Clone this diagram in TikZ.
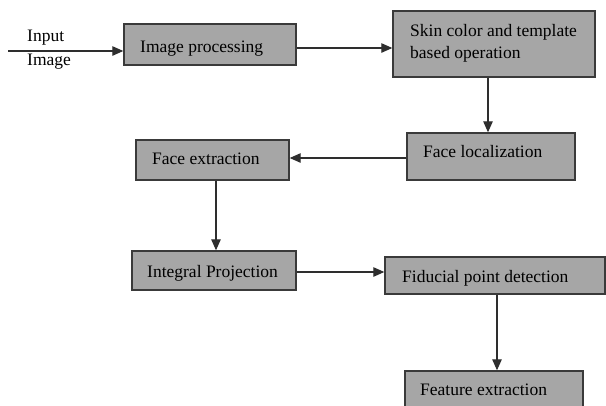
\documentclass[tikz,border=0pt]{standalone}
\usepackage{fontspec}
\setmainfont{Liberation Serif}
\usetikzlibrary{arrows.meta}
\definecolor{boxfill}{HTML}{A6A6A6}
\definecolor{boxline}{HTML}{3A3A3A}
\definecolor{lineclr}{HTML}{2E2E2E}
\tikzset{
  box/.style={draw=boxline, fill=boxfill, line width=1.4pt, rectangle, inner sep=0pt},
  lbl/.style={anchor=base west, inner sep=0pt, font=\fontsize{17.5}{20}\selectfont, text=black},
  arr/.style={draw=lineclr, line width=1.1pt, -{Triangle[length=11pt,width=9.5pt]}}
}
\begin{document}
\begin{tikzpicture}[x=1pt,y=-1pt]
\useasboundingbox (0,0) rectangle (606,405);
\clip (0,0) rectangle (606,405);
\fill[white] (0,0) rectangle (606,405);
% boxes
\node[box, minimum width=172pt, minimum height=41pt] (b1) at (210,44.5) {};
\node[box, minimum width=202pt, minimum height=66pt] (b2) at (494,44) {};
\node[box, minimum width=168pt, minimum height=47pt] (b3) at (491,156.5) {};
\node[box, minimum width=153pt, minimum height=40pt] (b4) at (212.5,160) {};
\node[box, minimum width=164pt, minimum height=39pt] (b5) at (214,270.5) {};
\node[box, minimum width=220pt, minimum height=37pt] (b6) at (495,275.5) {};
\node[box, minimum width=178pt, minimum height=40pt] (b7) at (494,391) {};
% texts
\node[lbl] (tin1) at (27,41) {Input};
\node[lbl] (tin2) at (27,65) {Image};
\node[lbl] (t1) at (140,52) {Image processing};
\node[lbl] (t2a) at (410,36) {Skin color and template};
\node[lbl] (t2b) at (410,58) {based operation};
\node[lbl] (t3) at (423,157) {Face localization};
\node[lbl] (t4) at (152,164) {Face extraction};
\node[lbl] (t5) at (147,277) {Integral Projection};
\node[lbl] (t6) at (402,282) {Fiducial point detection};
\node[lbl] (t7) at (420,395) {Feature extraction};
% helper coordinates
\coordinate (in) at (8,51);
\coordinate (h12) at (0,48);
\coordinate (v23) at (488,0);
\coordinate (h34) at (0,158);
\coordinate (v45) at (216,0);
\coordinate (h56) at (0,272);
\coordinate (v67) at (497,0);
% connectors
\draw[arr] (in) -- (in -| b1.west);
\draw[arr] (b1.east |- h12) -- (b2.west |- h12);
\draw[arr] (b2.south -| v23) -- (b3.north -| v23);
\draw[arr] (b3.west |- h34) -- (b4.east |- h34);
\draw[arr] (b4.south -| v45) -- (b5.north -| v45);
\draw[arr] (b5.east |- h56) -- (b6.west |- h56);
\draw[arr] (b6.south -| v67) -- (b7.north -| v67);
\end{tikzpicture}
\end{document}
